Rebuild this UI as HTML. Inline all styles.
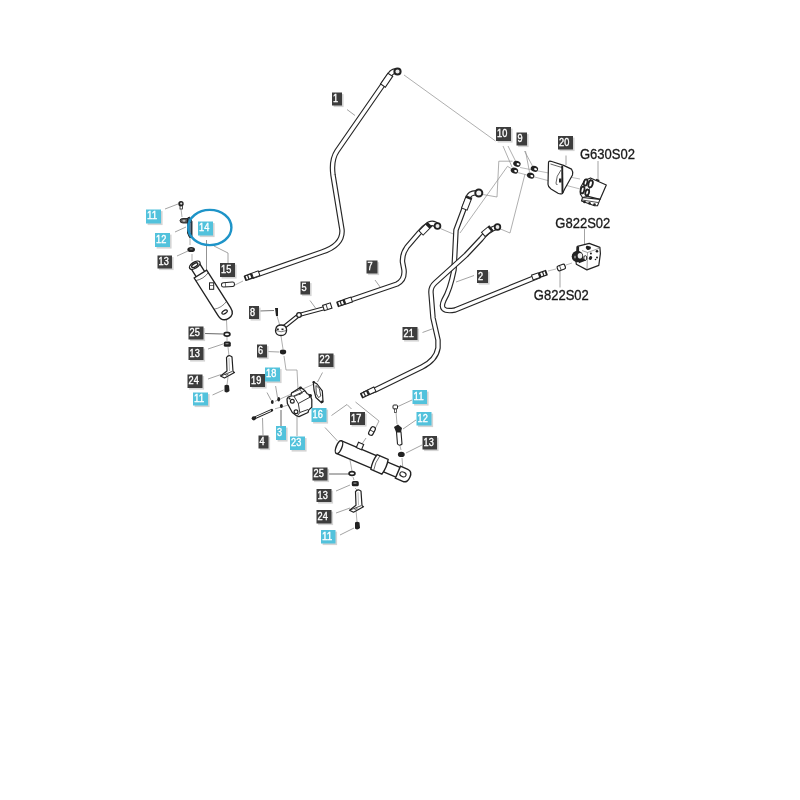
<!DOCTYPE html>
<html><head><meta charset="utf-8"><style>
html,body{margin:0;padding:0;background:#fff;width:800px;height:800px;overflow:hidden}
svg{display:block;filter:blur(0.35px)}
.lt{font-family:"Liberation Sans",sans-serif;font-size:10.2px;fill:#fff;stroke:#fff;stroke-width:0.35px}
.gt{font-family:"Liberation Sans",sans-serif;font-size:14px;fill:#1a1a1a;stroke:#1a1a1a;stroke-width:0.3px}
</style></head><body>
<svg width="800" height="800" viewBox="0 0 800 800">
<rect width="800" height="800" fill="#fff"/>
<polyline points="347,109.5 355,115.5" fill="none" stroke="#8c8c8c" stroke-width="0.8"/>
<polyline points="375,280 380.5,287.5" fill="none" stroke="#8c8c8c" stroke-width="0.8"/>
<polyline points="474,275.5 456,282" fill="none" stroke="#8c8c8c" stroke-width="0.8"/>
<polyline points="422.5,332.5 432.5,328.8" fill="none" stroke="#8c8c8c" stroke-width="0.8"/>
<polyline points="228,263 228,253 214,246" fill="none" stroke="#8c8c8c" stroke-width="0.8"/>
<polyline points="310,300.5 315.5,308" fill="none" stroke="#8c8c8c" stroke-width="0.8"/>
<polyline points="259,311 274,310.5" fill="none" stroke="#666" stroke-width="0.9"/>
<polyline points="267,351.5 279,352" fill="none" stroke="#8c8c8c" stroke-width="0.8"/>
<polyline points="322.5,372.5 317.5,382" fill="none" stroke="#8c8c8c" stroke-width="0.8"/>
<polyline points="165,209 178,204" fill="none" stroke="#8c8c8c" stroke-width="0.8"/>
<polyline points="175,232 186,227" fill="none" stroke="#8c8c8c" stroke-width="0.8"/>
<polyline points="177,256 188,251" fill="none" stroke="#8c8c8c" stroke-width="0.8"/>
<polyline points="181,209 182,217" fill="none" stroke="#8c8c8c" stroke-width="0.7"/>
<polyline points="190,238 190,245" fill="none" stroke="#8c8c8c" stroke-width="0.7"/>
<polyline points="192,254 192,261" fill="none" stroke="#8c8c8c" stroke-width="0.7"/>
<polyline points="206.5,240 206.5,272" fill="none" stroke="#777" stroke-width="0.8"/>
<polyline points="204,333.5 223,334" fill="none" stroke="#555" stroke-width="0.9"/>
<polyline points="208,349 223,344" fill="none" stroke="#8c8c8c" stroke-width="0.8"/>
<polyline points="208,379 221,374.5" fill="none" stroke="#8c8c8c" stroke-width="0.8"/>
<polyline points="212.5,395 223.5,390" fill="none" stroke="#8c8c8c" stroke-width="0.8"/>
<polyline points="226.5,320 227,331" fill="none" stroke="#8c8c8c" stroke-width="0.7"/>
<polyline points="227,337 227,341" fill="none" stroke="#8c8c8c" stroke-width="0.7"/>
<polyline points="228,347 229,356" fill="none" stroke="#8c8c8c" stroke-width="0.7"/>
<polyline points="228,377 227,385" fill="none" stroke="#8c8c8c" stroke-width="0.7"/>
<polyline points="277,316 280,326" fill="none" stroke="#8c8c8c" stroke-width="0.7"/>
<polyline points="281,336 283,349" fill="none" stroke="#8c8c8c" stroke-width="0.7"/>
<polyline points="284,356 286,370 297,370 298,389" fill="none" stroke="#8c8c8c" stroke-width="0.7"/>
<polyline points="267,392.5 271,400" fill="none" stroke="#8c8c8c" stroke-width="0.8"/>
<polyline points="275.6,386 277.5,397.5" fill="none" stroke="#8c8c8c" stroke-width="0.8"/>
<polyline points="281,426 281,410" fill="none" stroke="#555" stroke-width="0.9"/>
<polyline points="263,435 262.5,418" fill="none" stroke="#8c8c8c" stroke-width="0.8"/>
<polyline points="297,436 297,417" fill="none" stroke="#8c8c8c" stroke-width="0.8"/>
<polyline points="275,401.3 314,384" fill="none" stroke="#8c8c8c" stroke-width="0.7"/>
<polyline points="275,408.8 288.5,405" fill="none" stroke="#8c8c8c" stroke-width="0.7"/>
<polyline points="325,427.5 337.5,441" fill="none" stroke="#8c8c8c" stroke-width="0.8"/>
<polyline points="331.5,415.5 347,404.5 351.5,409" fill="none" stroke="#8c8c8c" stroke-width="0.8"/>
<polyline points="355.5,402 379,421 373,433" fill="none" stroke="#8c8c8c" stroke-width="0.8"/>
<polyline points="366,438 362,444" fill="none" stroke="#8c8c8c" stroke-width="0.8"/>
<polyline points="412,400 398,406.5" fill="none" stroke="#8c8c8c" stroke-width="0.8"/>
<polyline points="416,420 403,429" fill="none" stroke="#8c8c8c" stroke-width="0.8"/>
<polyline points="422,445 406,453" fill="none" stroke="#8c8c8c" stroke-width="0.8"/>
<polyline points="396,412 397,424" fill="none" stroke="#8c8c8c" stroke-width="0.7"/>
<polyline points="400,446 401,450" fill="none" stroke="#8c8c8c" stroke-width="0.7"/>
<polyline points="402,458 403,470" fill="none" stroke="#8c8c8c" stroke-width="0.7"/>
<polyline points="327,474 349,474" fill="none" stroke="#555" stroke-width="0.9"/>
<polyline points="336,491 350,485" fill="none" stroke="#8c8c8c" stroke-width="0.8"/>
<polyline points="336,513 350,508" fill="none" stroke="#8c8c8c" stroke-width="0.8"/>
<polyline points="340,535 354,528" fill="none" stroke="#8c8c8c" stroke-width="0.8"/>
<polyline points="350,460 352,471" fill="none" stroke="#8c8c8c" stroke-width="0.7"/>
<polyline points="353,477 354,480" fill="none" stroke="#8c8c8c" stroke-width="0.7"/>
<polyline points="355,488 357,490" fill="none" stroke="#8c8c8c" stroke-width="0.7"/>
<polyline points="356,510 357,522" fill="none" stroke="#8c8c8c" stroke-width="0.7"/>
<polyline points="404,75 495.5,141" fill="none" stroke="#8c8c8c" stroke-width="0.7"/>
<polyline points="508,146 516,162" fill="none" stroke="#8c8c8c" stroke-width="0.7"/>
<polyline points="503,146 512,167" fill="none" stroke="#8c8c8c" stroke-width="0.7"/>
<polyline points="524.5,151 532.5,166" fill="none" stroke="#8c8c8c" stroke-width="0.7"/>
<polyline points="525.5,151 529.5,172" fill="none" stroke="#8c8c8c" stroke-width="0.7"/>
<polyline points="566,155.5 566,165" fill="none" stroke="#8c8c8c" stroke-width="0.8"/>
<polyline points="598,161 598,180" fill="none" stroke="#8c8c8c" stroke-width="0.8"/>
<polyline points="584.5,229 584.5,244" fill="none" stroke="#8c8c8c" stroke-width="0.8"/>
<polyline points="560,270 560,287.5" fill="none" stroke="#8c8c8c" stroke-width="0.8"/>
<polyline points="441,228.8 458,236" fill="none" stroke="#8c8c8c" stroke-width="0.7"/>
<polyline points="460,233 507.5,166.3 511,168.5" fill="none" stroke="#8c8c8c" stroke-width="0.7"/>
<polyline points="512.5,161.2 498.8,161.2 497,197 483,194.5" fill="none" stroke="#8c8c8c" stroke-width="0.7"/>
<polyline points="500,228.8 510,233 525,174" fill="none" stroke="#8c8c8c" stroke-width="0.7"/>
<polyline points="520,167.5 580,179" fill="none" stroke="#8c8c8c" stroke-width="0.6"/>
<polyline points="517.5,172.5 580,189" fill="none" stroke="#8c8c8c" stroke-width="0.6"/>
<polyline points="548,271 556,269" fill="none" stroke="#8c8c8c" stroke-width="0.6"/>
<polyline points="566,265 572,263" fill="none" stroke="#8c8c8c" stroke-width="0.6"/>
<path d="M 252 276.5 L 322 252 Q 343 245 342 230 L 333 175 Q 331 160 337 151 L 390 74.5 Q 393 70 397.5 71.5" fill="none" stroke="#262626" stroke-width="5.5" stroke-linecap="butt" stroke-linejoin="round"/>
<path d="M 252 276.5 L 322 252 Q 343 245 342 230 L 333 175 Q 331 160 337 151 L 390 74.5 Q 393 70 397.5 71.5" fill="none" stroke="#fff" stroke-width="3.2" stroke-linecap="butt" stroke-linejoin="round"/>
<path d="M 340 303.5 L 397 284 Q 405 280 404 270 L 402.5 262 Q 402 254 407 247 L 419 233 Q 424 227 429 224 Q 434 222 437.5 226" fill="none" stroke="#262626" stroke-width="5.5" stroke-linecap="butt" stroke-linejoin="round"/>
<path d="M 340 303.5 L 397 284 Q 405 280 404 270 L 402.5 262 Q 402 254 407 247 L 419 233 Q 424 227 429 224 Q 434 222 437.5 226" fill="none" stroke="#fff" stroke-width="3.2" stroke-linecap="butt" stroke-linejoin="round"/>
<path d="M 478 193 Q 470 192 468 198 L 456 230 L 454 270 Q 450 290 444 300 Q 438 313 455 310 L 540 275.5" fill="none" stroke="#262626" stroke-width="5.5" stroke-linecap="butt" stroke-linejoin="round"/>
<path d="M 478 193 Q 470 192 468 198 L 456 230 L 454 270 Q 450 290 444 300 Q 438 313 455 310 L 540 275.5" fill="none" stroke="#fff" stroke-width="3.2" stroke-linecap="butt" stroke-linejoin="round"/>
<path d="M 364 394 L 375 390 L 422 367 Q 436 360 438 348 L 438 340 L 433 318 L 431 293 Q 430.5 287 435 283 L 466 255 L 481 239 Q 488 230 497 227" fill="none" stroke="#262626" stroke-width="5.5" stroke-linecap="butt" stroke-linejoin="round"/>
<path d="M 364 394 L 375 390 L 422 367 Q 436 360 438 348 L 438 340 L 433 318 L 431 293 Q 430.5 287 435 283 L 466 255 L 481 239 Q 488 230 497 227" fill="none" stroke="#fff" stroke-width="3.2" stroke-linecap="butt" stroke-linejoin="round"/>
<circle cx="397.5" cy="71.5" r="3.1" fill="#e8e8e8" stroke="#222" stroke-width="2"/>
<circle cx="478.8" cy="193" r="3.5" fill="#f4f4f4" stroke="#222" stroke-width="2"/>
<circle cx="437.5" cy="226" r="2.9" fill="#e8e8e8" stroke="#222" stroke-width="1.8"/>
<circle cx="497.5" cy="227" r="2.8" fill="#e8e8e8" stroke="#222" stroke-width="1.8"/>
<g transform="translate(244.5,278.5) rotate(-20)"><rect x="0" y="-3.0" width="8.5" height="6" fill="#222" rx="0.8"/><rect x="1.8" y="-1.7" width="1.6" height="3.4" fill="#fff"/><rect x="4.6" y="-1.7" width="2" height="3.4" fill="#fff"/><rect x="8.5" y="-2.5" width="7" height="5" fill="#fff" stroke="#222" stroke-width="1"/></g>
<g transform="translate(337,304.5) rotate(-19)"><rect x="0" y="-3.0" width="8.5" height="6" fill="#222" rx="0.8"/><rect x="1.8" y="-1.7" width="1.6" height="3.4" fill="#fff"/><rect x="4.6" y="-1.7" width="2" height="3.4" fill="#fff"/><rect x="8.5" y="-2.5" width="7" height="5" fill="#fff" stroke="#222" stroke-width="1"/></g>
<g transform="translate(361,396) rotate(-26)"><rect x="0" y="-3.0" width="8.5" height="6" fill="#222" rx="0.8"/><rect x="1.8" y="-1.7" width="1.6" height="3.4" fill="#fff"/><rect x="4.6" y="-1.7" width="2" height="3.4" fill="#fff"/><rect x="8.5" y="-2.5" width="7" height="5" fill="#fff" stroke="#222" stroke-width="1"/></g>
<g transform="translate(547,272.5) rotate(161)"><rect x="0" y="-3.0" width="8.5" height="6" fill="#222" rx="0.8"/><rect x="1.8" y="-1.7" width="1.6" height="3.4" fill="#fff"/><rect x="4.6" y="-1.7" width="2" height="3.4" fill="#fff"/><rect x="8.5" y="-2.5" width="7" height="5" fill="#fff" stroke="#222" stroke-width="1"/></g>
<g transform="translate(469,197) rotate(111)"><rect x="0" y="-3" width="13" height="6" fill="#fff" stroke="#222" stroke-width="1"/><rect x="0" y="-3" width="2" height="6" fill="#222"/></g>
<g transform="translate(429.5,224.5) rotate(135)"><rect x="0" y="-3" width="12" height="6" fill="#fff" stroke="#222" stroke-width="1"/><rect x="0" y="-3" width="3" height="6" fill="#222"/></g>
<g transform="translate(491,228) rotate(140)"><rect x="0" y="-2.8" width="10" height="5.6" fill="#fff" stroke="#222" stroke-width="1"/><rect x="0" y="-2.8" width="2" height="5.6" fill="#222"/></g>
<g transform="translate(390.3,74.8) rotate(124.5)"><rect x="0" y="-2.9" width="13" height="5.8" fill="#fff" stroke="#222" stroke-width="1.1"/></g>
<g transform="translate(194.5,264.8) rotate(57.5)" stroke="#222" stroke-width="1.35" fill="#fff"><rect x="1" y="-5" width="13" height="10"/><path d="M 11 -7.4 L 55.5 -7.4 Q 63.5 -7.4 63.5 0 Q 63.5 7.4 55.5 7.4 L 11 7.4 Z"/><path d="M 14 -7.4 Q 17 0 14 7.4" fill="none" stroke-width="0.6"/><path d="M 48 -7.4 Q 51 0 48 7.4" fill="none" stroke-width="0.5"/><ellipse cx="0.5" cy="0" rx="3" ry="6"/><ellipse cx="0.5" cy="0" rx="1.6" ry="3.5"/><ellipse cx="56" cy="0" rx="1.6" ry="3" stroke-width="1.2"/></g>
<rect x="209.5" y="282.8" width="4.2" height="6.5" fill="#fff" stroke="#222" stroke-width="1"/><line x1="209.5" y1="285.5" x2="213.7" y2="285.5" stroke="#222" stroke-width="0.6"/>
<g transform="translate(221.5,285) rotate(-4)"><rect x="0" y="-2.2" width="13" height="4.4" rx="2" fill="#fff" stroke="#222" stroke-width="1"/><line x1="4" y1="-2.2" x2="4" y2="2.2" stroke="#222" stroke-width="0.6"/></g>
<polyline points="235,285 243,281" fill="none" stroke="#8c8c8c" stroke-width="0.7"/>
<circle cx="181" cy="203.8" r="2.7" fill="#222"/><circle cx="181.2" cy="203.6" r="1.1" fill="#ddd"/>
<rect x="180" y="206" width="2.4" height="3" fill="#fff" stroke="#222" stroke-width="0.8"/>
<path d="M 180 220.5 Q 180 218.5 183 218.5 L 189 218.5 L 189 223 L 183 223 Q 180 223 180 220.5 Z" fill="#555" stroke="#222" stroke-width="0.9"/>
<ellipse cx="184" cy="220.7" rx="1.6" ry="1" fill="#bbb"/>
<path d="M 187.5 218 L 189.5 217 L 192 221.5 L 192 237.5 L 189.5 237.5 L 187.5 233 Z" fill="#2a4a60" stroke="#222" stroke-width="0.9"/>
<rect x="189.5" y="223" width="1" height="10" fill="#9ab"/>
<ellipse cx="191.2" cy="249.5" rx="3.8" ry="2.6" fill="#222"/><ellipse cx="191.2" cy="249" rx="1.8" ry="0.8" fill="#777"/>
<g transform="translate(0,0)"><ellipse cx="227" cy="334.2" rx="2.9" ry="1.9" fill="#fff" stroke="#222" stroke-width="1.7"/></g><g transform="translate(0,0)"><rect x="223.8" y="341.6" width="7" height="5.2" rx="1.6" fill="#222"/><rect x="225.5" y="343" width="3" height="1.3" fill="#888"/></g><g transform="translate(0,0)"><path d="M 226.5 357.5 Q 229 354 232 357 L 233 371.5 L 234.5 372.5 L 224.5 378 L 220.5 376 L 227 371 Z" fill="#fff" stroke="#222" stroke-width="1.2" stroke-linejoin="round"/><path d="M 229 358 L 229.5 371" stroke="#999" stroke-width="0.7"/><path d="M 222 375.5 L 232 371.5 M 225 374.5 Q 227 376 228.5 374" fill="none" stroke="#222" stroke-width="0.8"/></g><g transform="translate(0,0)"><path d="M 224.5 385.5 Q 226.5 384 229 385.5 L 229.5 391 Q 227 393.5 224.5 391.5 Z" fill="#222"/></g>
<path d="M 275 308 L 278 308 L 278 316 L 276 316 Z" fill="#222"/>
<path d="M 284 327 L 299 315 L 325 308" fill="none" stroke="#222" stroke-width="4.2" stroke-linejoin="round"/>
<path d="M 284 327 L 299 315 L 325 308" fill="none" stroke="#fff" stroke-width="2.2" stroke-linejoin="round"/>
<circle cx="299" cy="315" r="2.3" fill="#fff" stroke="#222" stroke-width="1.3"/>
<path d="M 275.8 329 Q 276.5 325 281 325 Q 286 325 286.5 329 L 286.5 331 Q 286 335.5 281 335.5 Q 276 335.5 275.5 331 Z" fill="#fff" stroke="#222" stroke-width="1.3"/>
<path d="M 276 330.5 Q 281 333 286.5 330.5" fill="none" stroke="#222" stroke-width="0.6"/>
<rect x="276.8" y="328.5" width="2" height="1.6" fill="#222"/><rect x="281.5" y="328.5" width="2" height="1.6" fill="#222"/>
<g transform="translate(323.5,308) rotate(-18)"><rect x="0" y="-2.8" width="8" height="5.6" fill="#fff" stroke="#222" stroke-width="1.1"/><line x1="3.5" y1="-2.8" x2="3.5" y2="2.8" stroke="#222" stroke-width="0.8"/></g>
<ellipse cx="283" cy="352" rx="3.2" ry="2.4" fill="#222"/>
<path d="M 287 399 L 288.1 397.1 L 291.1 396 L 291.5 393 L 299.8 387.8 L 300.9 387.4 L 305 390.8 L 307.3 393.8 L 310.3 395.3 L 311.8 399.8 L 311.8 407.3 L 308.8 409.9 L 308 412.5 L 299 416.6 L 296.8 415.9 L 292.3 412.5 L 287.4 403.5 Z" fill="#fff" stroke="#222" stroke-width="1.25" stroke-linejoin="round"/>
<path d="M 291.1 396 L 293.8 396 L 298.3 403.5 L 299.8 412.5 L 297.5 415.5 M 293.8 396 L 305 390.8 M 298.3 403.5 L 310.3 397 M 299.8 412.5 L 308 409.5" fill="none" stroke="#222" stroke-width="0.9"/>
<path d="M 291.5 393 L 300 389.5 L 302.5 393 L 294 396.5" fill="none" stroke="#222" stroke-width="0.7"/>
<circle cx="292.3" cy="401.3" r="1.9" fill="#fff" stroke="#222" stroke-width="1.2"/>
<circle cx="296" cy="411.8" r="1.9" fill="#fff" stroke="#222" stroke-width="1.2"/>
<circle cx="289.5" cy="398.5" r="1" fill="#222"/>
<circle cx="310.3" cy="395.6" r="1.7" fill="#222"/>
<circle cx="300.5" cy="388" r="1.4" fill="#222"/>
<circle cx="299.8" cy="393.8" r="0.9" fill="#222"/>
<path d="M 313.3 381.8 L 317 384 L 322.3 390.8 L 323 401.3 L 321.5 402.8 L 315.9 397.5 L 314 390 Z" fill="#fff" stroke="#222" stroke-width="1.2" stroke-linejoin="round"/>
<path d="M 315.9 385.5 L 319.3 388.5 L 320.8 396 L 318.5 397.5 L 316.3 393.8 Z" fill="#fff" stroke="#222" stroke-width="0.8"/>
<circle cx="313.8" cy="382.3" r="1.2" fill="#222"/><circle cx="322.2" cy="401.8" r="1.3" fill="#222"/>
<path d="M 254 418.3 L 271.8 410.3" stroke="#222" stroke-width="2.8" fill="none" stroke-linecap="round"/>
<path d="M 256 417.2 L 271 410.6" stroke="#fff" stroke-width="1" fill="none"/>
<circle cx="253.8" cy="418.3" r="2.1" fill="#222"/>
<ellipse cx="272.3" cy="401.9" rx="1.4" ry="2" fill="#222"/>
<ellipse cx="278.7" cy="399.2" rx="1.4" ry="2.3" fill="#222"/>
<ellipse cx="281.4" cy="406" rx="1.5" ry="2.1" fill="#222"/>
<g transform="translate(339,447.2) rotate(23)" stroke="#222" stroke-width="1.4" fill="#fff"><rect x="50" y="-5.3" width="16" height="10.6"/><path d="M 0 -6.8 L 39 -6.8 L 39 6.8 L 0 6.8 Z"/><path d="M 38 -8 L 50 -8 Q 52 0 50 8 L 38 8 Q 36 0 38 -8 Z"/><path d="M 41 -8 Q 39 0 41 8" fill="none" stroke-width="0.6"/><ellipse cx="0" cy="0" rx="2.8" ry="6.8"/><path d="M 64 -6.5 L 72 -6.5 Q 77 -6.5 77 0 Q 77 6.5 72 6.5 L 64 6.5 Z"/><ellipse cx="69.5" cy="0" rx="3.2" ry="2.4" stroke-width="1.1"/></g>
<g transform="translate(360,446) rotate(23)"><rect x="-2.8" y="-2.8" width="5.6" height="5.6" fill="#fff" stroke="#222" stroke-width="1.1"/></g>
<g transform="translate(372,431) rotate(-62)"><rect x="-4.5" y="-2.3" width="9" height="4.6" rx="2.2" fill="#fff" stroke="#222" stroke-width="1.2"/><line x1="0" y1="-2.3" x2="0" y2="2.3" stroke="#222" stroke-width="0.8"/></g>
<rect x="393" y="405" width="4.5" height="4" rx="1" fill="#fff" stroke="#222" stroke-width="1"/>
<rect x="394.5" y="409" width="2" height="3.5" fill="#fff" stroke="#222" stroke-width="0.7"/>
<path d="M 394 427 L 398 424.5 L 402 428 L 401 432 L 396 432 Z" fill="#222"/>
<path d="M 396.5 432 L 401 432 L 402 444 Q 399.5 446.5 397.5 444 Z" fill="#fff" stroke="#222" stroke-width="1.1"/>
<ellipse cx="401.3" cy="454.4" rx="3.4" ry="2.6" fill="#222"/>
<g transform="translate(125,139.3)"><ellipse cx="227" cy="334.2" rx="2.9" ry="1.9" fill="#fff" stroke="#222" stroke-width="1.7"/></g><g transform="translate(128,139.5)"><rect x="223.8" y="341.6" width="7" height="5.2" rx="1.6" fill="#222"/><rect x="225.5" y="343" width="3" height="1.3" fill="#888"/></g><g transform="translate(129,134.2)"><path d="M 226.5 357.5 Q 229 354 232 357 L 233 371.5 L 234.5 372.5 L 224.5 378 L 220.5 376 L 227 371 Z" fill="#fff" stroke="#222" stroke-width="1.2" stroke-linejoin="round"/><path d="M 229 358 L 229.5 371" stroke="#999" stroke-width="0.7"/><path d="M 222 375.5 L 232 371.5 M 225 374.5 Q 227 376 228.5 374" fill="none" stroke="#222" stroke-width="0.8"/></g><g transform="translate(130.5,137.1)"><path d="M 224.5 385.5 Q 226.5 384 229 385.5 L 229.5 391 Q 227 393.5 224.5 391.5 Z" fill="#222"/></g>
<g transform="translate(516.9,163.8) rotate(20)"><ellipse cx="0" cy="0" rx="3.8" ry="2.9" fill="#222"/><ellipse cx="1.2" cy="0" rx="1.5" ry="1" fill="#fff"/></g>
<g transform="translate(514.4,170.6) rotate(20)"><ellipse cx="0" cy="0" rx="3.8" ry="2.9" fill="#222"/><ellipse cx="1.2" cy="0" rx="1.5" ry="1" fill="#fff"/></g>
<g transform="translate(534.4,168.8) rotate(20)"><ellipse cx="0" cy="0" rx="3.8" ry="2.9" fill="#222"/><ellipse cx="1.2" cy="0" rx="1.5" ry="1" fill="#fff"/></g>
<g transform="translate(530.6,175.6) rotate(20)"><ellipse cx="0" cy="0" rx="3.8" ry="2.9" fill="#222"/><ellipse cx="1.2" cy="0" rx="1.5" ry="1" fill="#fff"/></g>
<path d="M 548.5 162.5 Q 548.5 160.8 551 161.3 L 563.6 165.4 L 571.5 169.1 Q 573.5 172 572.5 175 L 564.8 188.8 L 562.5 193.5 Q 560.5 194.5 558 193.3 L 551 189 Q 548 187 548 184.3 Z" fill="#fff" stroke="#222" stroke-width="1.2" stroke-linejoin="round"/>
<path d="M 562.2 165.8 L 562.5 193" fill="none" stroke="#222" stroke-width="1.9"/>
<path d="M 550.5 164 L 562 167.5 M 561 170 Q 556 176 556 183 Q 556 185 557.5 184.5" fill="none" stroke="#222" stroke-width="0.7"/>
<rect x="559" y="178.5" width="2.5" height="4" fill="#222"/>
<path d="M 590.5 178 L 606.3 185 L 600 199.4 L 588 196.3 Z" fill="#fff" stroke="#222" stroke-width="1.2" stroke-linejoin="round"/>
<path d="M 590.5 178 L 584.5 180.5 L 580.8 187 L 580.3 194 L 582.5 197.5 L 588 196.3" fill="#fff" stroke="#222" stroke-width="1.1" stroke-linejoin="round"/>
<path d="M 582.5 197.5 L 600 199.4 L 597.5 205.8 L 594.5 205.8 L 581.5 201 Z" fill="#fff" stroke="#222" stroke-width="1.1" stroke-linejoin="round"/>
<path d="M 582 200 L 598 202.5" stroke="#222" stroke-width="0.8"/><circle cx="584.5" cy="202" r="1.3" fill="#222"/><circle cx="589.5" cy="203.3" r="1.3" fill="#222"/><circle cx="594.5" cy="204.5" r="1.3" fill="#222"/>
<ellipse cx="585.6" cy="182.5" rx="1.7" ry="3.2" fill="#fff" stroke="#222" stroke-width="1.8" transform="rotate(15 585.6 182.5)"/>
<ellipse cx="590.6" cy="183.8" rx="2.1" ry="3.6" fill="#fff" stroke="#222" stroke-width="1.8" transform="rotate(15 590.6 183.8)"/>
<ellipse cx="582.5" cy="190" rx="1.8" ry="3.5" fill="#fff" stroke="#222" stroke-width="1.8" transform="rotate(15 582.5 190)"/>
<ellipse cx="587.2" cy="192.5" rx="1.8" ry="3.0" fill="#fff" stroke="#222" stroke-width="1.8" transform="rotate(15 587.2 192.5)"/>
<rect x="596" y="179.5" width="3.5" height="1.6" fill="#222" transform="rotate(22 598 180)"/>
<path d="M 577.4 246.3 L 589.2 243.4 L 599.9 247.4 L 600.4 253.6 L 598.8 265.4 L 586.9 269.9 L 576.3 264.3 L 576 261.4 Z" fill="#fff" stroke="#222" stroke-width="1.2" stroke-linejoin="round"/>
<path d="M 582 250.5 L 587.5 252.5 L 599.9 248 M 587.5 252.5 L 587 269.5" fill="none" stroke="#666" stroke-width="0.6"/>
<ellipse cx="577.5" cy="256.5" rx="5.8" ry="5.8" fill="#222"/><ellipse cx="580" cy="255.8" rx="2.3" ry="2.8" fill="#eee"/><ellipse cx="575" cy="257" rx="1" ry="1.5" fill="#888"/><rect x="578" y="260.5" width="7.5" height="2.8" fill="#222" transform="rotate(-20 578 260.5)"/>
<rect x="576.5" y="246.5" width="2.6" height="5.5" fill="#222"/><rect x="586" y="246" width="5" height="3" rx="1" fill="#222" transform="rotate(15 588 247)"/>
<ellipse cx="585.3" cy="258" rx="1.5" ry="2.3" fill="#fff" stroke="#222" stroke-width="1"/>
<ellipse cx="590.5" cy="258" rx="1.6" ry="2" fill="#222" transform="rotate(30 590.5 258)"/>
<circle cx="597" cy="251.3" r="1.3" fill="#222"/>
<circle cx="590.9" cy="253.6" r="1" fill="#222"/>
<circle cx="597" cy="257.5" r="1" fill="#222"/>
<circle cx="588" cy="248.5" r="1.5" fill="#222"/>
<circle cx="595.5" cy="259.5" r="0.8" fill="#222"/>
<g transform="translate(561.3,267.5) rotate(-20)"><rect x="-4" y="-2.5" width="8" height="5" rx="1.5" fill="#fff" stroke="#222" stroke-width="1.2"/><line x1="-1" y1="-2.5" x2="-1" y2="2.5" stroke="#222" stroke-width="0.7"/></g>
<ellipse cx="209.8" cy="227.5" rx="21.6" ry="17.6" fill="none" stroke="#1e94c8" stroke-width="2.4"/>

<rect x="333.6" y="94.1" width="10" height="13" fill="#d4d4d4"/>
<rect x="332" y="92.5" width="10" height="13" fill="#3d3d3d"/>
<text x="333.1" y="102.4" class="lt" textLength="5.10" lengthAdjust="spacingAndGlyphs">1</text>
<rect x="497.6" y="128.6" width="15" height="14" fill="#d4d4d4"/>
<rect x="496" y="127" width="15" height="14" fill="#3d3d3d"/>
<text x="497.1" y="136.9" class="lt" textLength="10.21" lengthAdjust="spacingAndGlyphs">10</text>
<rect x="518.1" y="134.1" width="10.5" height="13" fill="#d4d4d4"/>
<rect x="516.5" y="132.5" width="10.5" height="13" fill="#3d3d3d"/>
<text x="517.6" y="142.4" class="lt" textLength="5.10" lengthAdjust="spacingAndGlyphs">9</text>
<rect x="559.6" y="137.6" width="15" height="13.5" fill="#d4d4d4"/>
<rect x="558" y="136" width="15" height="13.5" fill="#3d3d3d"/>
<text x="559.1" y="145.9" class="lt" textLength="10.21" lengthAdjust="spacingAndGlyphs">20</text>
<rect x="147.6" y="211.1" width="15" height="14" fill="#d4d4d4"/>
<rect x="146" y="209.5" width="15" height="14" fill="#52c2dc"/>
<text x="147.1" y="219.4" class="lt" textLength="10.21" lengthAdjust="spacingAndGlyphs">11</text>
<rect x="156.6" y="234.6" width="15" height="14" fill="#d4d4d4"/>
<rect x="155" y="233" width="15" height="14" fill="#52c2dc"/>
<text x="156.1" y="242.9" class="lt" textLength="10.21" lengthAdjust="spacingAndGlyphs">12</text>
<rect x="199.6" y="223.1" width="15" height="14" fill="#d4d4d4"/>
<rect x="198" y="221.5" width="15" height="14" fill="#52c2dc"/>
<text x="199.1" y="231.4" class="lt" textLength="10.21" lengthAdjust="spacingAndGlyphs">14</text>
<rect x="159.1" y="257.1" width="14.5" height="13" fill="#d4d4d4"/>
<rect x="157.5" y="255.5" width="14.5" height="13" fill="#3d3d3d"/>
<text x="158.6" y="265.4" class="lt" textLength="10.21" lengthAdjust="spacingAndGlyphs">13</text>
<rect x="221.6" y="264.6" width="15" height="14" fill="#d4d4d4"/>
<rect x="220" y="263" width="15" height="14" fill="#3d3d3d"/>
<text x="221.1" y="272.9" class="lt" textLength="10.21" lengthAdjust="spacingAndGlyphs">15</text>
<rect x="368.1" y="262.1" width="11" height="13" fill="#d4d4d4"/>
<rect x="366.5" y="260.5" width="11" height="13" fill="#3d3d3d"/>
<text x="367.6" y="270.4" class="lt" textLength="5.10" lengthAdjust="spacingAndGlyphs">7</text>
<rect x="478.6" y="271.6" width="11" height="13" fill="#d4d4d4"/>
<rect x="477" y="270" width="11" height="13" fill="#3d3d3d"/>
<text x="478.1" y="279.9" class="lt" textLength="5.10" lengthAdjust="spacingAndGlyphs">2</text>
<rect x="302.1" y="283.1" width="9.5" height="13" fill="#d4d4d4"/>
<rect x="300.5" y="281.5" width="9.5" height="13" fill="#3d3d3d"/>
<text x="301.6" y="291.4" class="lt" textLength="5.10" lengthAdjust="spacingAndGlyphs">5</text>
<rect x="250.6" y="307.6" width="10" height="13" fill="#d4d4d4"/>
<rect x="249" y="306" width="10" height="13" fill="#3d3d3d"/>
<text x="250.1" y="315.9" class="lt" textLength="5.10" lengthAdjust="spacingAndGlyphs">8</text>
<rect x="404.1" y="328.6" width="15" height="13" fill="#d4d4d4"/>
<rect x="402.5" y="327" width="15" height="13" fill="#3d3d3d"/>
<text x="403.6" y="336.9" class="lt" textLength="10.21" lengthAdjust="spacingAndGlyphs">21</text>
<rect x="190.1" y="328.1" width="15" height="13" fill="#d4d4d4"/>
<rect x="188.5" y="326.5" width="15" height="13" fill="#3d3d3d"/>
<text x="189.6" y="336.4" class="lt" textLength="10.21" lengthAdjust="spacingAndGlyphs">25</text>
<rect x="190.1" y="348.6" width="15" height="13" fill="#d4d4d4"/>
<rect x="188.5" y="347" width="15" height="13" fill="#3d3d3d"/>
<text x="189.6" y="356.9" class="lt" textLength="10.21" lengthAdjust="spacingAndGlyphs">13</text>
<rect x="258.6" y="346.1" width="10" height="13" fill="#d4d4d4"/>
<rect x="257" y="344.5" width="10" height="13" fill="#3d3d3d"/>
<text x="258.1" y="354.4" class="lt" textLength="5.10" lengthAdjust="spacingAndGlyphs">6</text>
<rect x="320.1" y="355.1" width="15" height="13.5" fill="#d4d4d4"/>
<rect x="318.5" y="353.5" width="15" height="13.5" fill="#3d3d3d"/>
<text x="319.6" y="363.4" class="lt" textLength="10.21" lengthAdjust="spacingAndGlyphs">22</text>
<rect x="251.6" y="375.6" width="15" height="13" fill="#d4d4d4"/>
<rect x="250" y="374" width="15" height="13" fill="#3d3d3d"/>
<text x="251.1" y="383.9" class="lt" textLength="10.21" lengthAdjust="spacingAndGlyphs">19</text>
<rect x="266.6" y="369.1" width="15" height="14" fill="#d4d4d4"/>
<rect x="265" y="367.5" width="15" height="14" fill="#52c2dc"/>
<text x="266.1" y="377.4" class="lt" textLength="10.21" lengthAdjust="spacingAndGlyphs">18</text>
<rect x="189.1" y="376.1" width="15" height="13.5" fill="#d4d4d4"/>
<rect x="187.5" y="374.5" width="15" height="13.5" fill="#3d3d3d"/>
<text x="188.6" y="384.4" class="lt" textLength="10.21" lengthAdjust="spacingAndGlyphs">24</text>
<rect x="194.6" y="394.1" width="15" height="13" fill="#d4d4d4"/>
<rect x="193" y="392.5" width="15" height="13" fill="#52c2dc"/>
<text x="194.1" y="402.4" class="lt" textLength="10.21" lengthAdjust="spacingAndGlyphs">11</text>
<rect x="414.1" y="391.6" width="14.5" height="14" fill="#d4d4d4"/>
<rect x="412.5" y="390" width="14.5" height="14" fill="#52c2dc"/>
<text x="413.6" y="399.9" class="lt" textLength="10.21" lengthAdjust="spacingAndGlyphs">11</text>
<rect x="313.1" y="409.6" width="15" height="14" fill="#d4d4d4"/>
<rect x="311.5" y="408" width="15" height="14" fill="#52c2dc"/>
<text x="312.6" y="417.9" class="lt" textLength="10.21" lengthAdjust="spacingAndGlyphs">16</text>
<rect x="418.1" y="413.6" width="15" height="13.5" fill="#d4d4d4"/>
<rect x="416.5" y="412" width="15" height="13.5" fill="#52c2dc"/>
<text x="417.6" y="421.9" class="lt" textLength="10.21" lengthAdjust="spacingAndGlyphs">12</text>
<rect x="351.6" y="413.6" width="15" height="13" fill="#d4d4d4"/>
<rect x="350" y="412" width="15" height="13" fill="#3d3d3d"/>
<text x="351.1" y="421.9" class="lt" textLength="10.21" lengthAdjust="spacingAndGlyphs">17</text>
<rect x="277.6" y="427.6" width="10" height="14" fill="#d4d4d4"/>
<rect x="276" y="426" width="10" height="14" fill="#52c2dc"/>
<text x="277.1" y="435.9" class="lt" textLength="5.10" lengthAdjust="spacingAndGlyphs">3</text>
<rect x="260.1" y="437.1" width="10" height="13" fill="#d4d4d4"/>
<rect x="258.5" y="435.5" width="10" height="13" fill="#3d3d3d"/>
<text x="259.6" y="445.4" class="lt" textLength="5.10" lengthAdjust="spacingAndGlyphs">4</text>
<rect x="291.6" y="438.1" width="15" height="13.5" fill="#d4d4d4"/>
<rect x="290" y="436.5" width="15" height="13.5" fill="#52c2dc"/>
<text x="291.1" y="446.4" class="lt" textLength="10.21" lengthAdjust="spacingAndGlyphs">23</text>
<rect x="424.1" y="437.6" width="14.5" height="13.5" fill="#d4d4d4"/>
<rect x="422.5" y="436" width="14.5" height="13.5" fill="#3d3d3d"/>
<text x="423.6" y="445.9" class="lt" textLength="10.21" lengthAdjust="spacingAndGlyphs">13</text>
<rect x="314.1" y="469.1" width="15" height="13" fill="#d4d4d4"/>
<rect x="312.5" y="467.5" width="15" height="13" fill="#3d3d3d"/>
<text x="313.6" y="477.4" class="lt" textLength="10.21" lengthAdjust="spacingAndGlyphs">25</text>
<rect x="318.1" y="490.6" width="15" height="13" fill="#d4d4d4"/>
<rect x="316.5" y="489" width="15" height="13" fill="#3d3d3d"/>
<text x="317.6" y="498.9" class="lt" textLength="10.21" lengthAdjust="spacingAndGlyphs">13</text>
<rect x="318.1" y="511.6" width="15" height="13.5" fill="#d4d4d4"/>
<rect x="316.5" y="510" width="15" height="13.5" fill="#3d3d3d"/>
<text x="317.6" y="519.9" class="lt" textLength="10.21" lengthAdjust="spacingAndGlyphs">24</text>
<rect x="322.6" y="531.6" width="14.5" height="13.5" fill="#d4d4d4"/>
<rect x="321" y="530" width="14.5" height="13.5" fill="#52c2dc"/>
<text x="322.1" y="539.9" class="lt" textLength="10.21" lengthAdjust="spacingAndGlyphs">11</text>
<text x="580" y="158.8" class="gt" textLength="55" lengthAdjust="spacingAndGlyphs">G630S02</text>
<text x="555.3" y="227.5" class="gt" textLength="55" lengthAdjust="spacingAndGlyphs">G822S02</text>
<text x="533.8" y="300.2" class="gt" textLength="55" lengthAdjust="spacingAndGlyphs">G822S02</text>
</svg></body></html>
